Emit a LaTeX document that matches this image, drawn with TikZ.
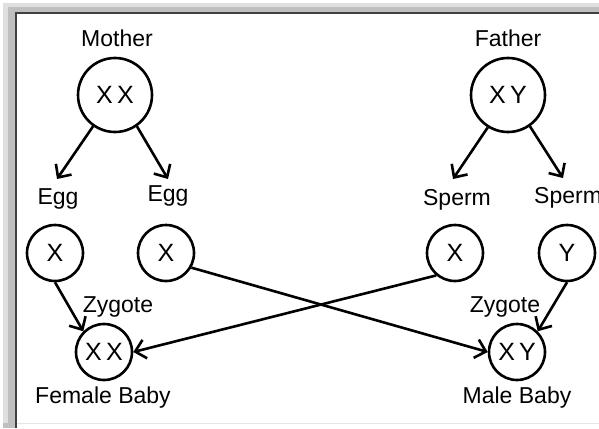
\documentclass[tikz,border=0pt]{standalone}
\usepackage{fontspec}
\setmainfont{Liberation Sans}
\usetikzlibrary{arrows.meta}
\begin{document}
\begin{tikzpicture}[x=1pt,y=-1pt,
  cell/.style={circle,draw,line width=2.6pt,minimum size=56pt,inner sep=0pt,font=\fontsize{25}{25}\selectfont},
  bigcell/.style={cell,minimum size=74pt},
  lbl/.style={font=\fontsize{23}{25}\selectfont,inner sep=0pt},
  arr/.style={line width=2.6pt,-{Straight Barb[length=10pt,width=19pt,line width=2.6pt]}}]
\useasboundingbox (0,0) rectangle (599,428);
\clip (0,0) rectangle (599,428);
% frame
\fill[gray!50] (3,3) rectangle (599,428);
\fill[gray!25] (3,3) rectangle (8,428);
\fill[gray!25] (3,3) rectangle (599,7);
\fill[white] (17,13) rectangle (599,423);
\fill[white] (3,424) rectangle (599,428);
\fill[gray!50] (3,423) rectangle (17,428);
\draw[black!75,line width=1.8pt] (16,428) -- (16,13) -- (599,13);
\draw[gray!20,line width=0.8pt] (17,423) -- (599,423);
% nodes
\node[bigcell] (mother) at (115,95) {X\,X};
\node[bigcell] (father) at (508,95) {X\,Y};
\node[lbl] (motherl) at (117,38) {Mother};
\node[lbl] (fatherl) at (508,38) {Father};
\node[cell] (egg1) at (55,253) {X};
\node[cell] (egg2) at (166,253) {X};
\node[cell] (sp1) at (455,253) {X};
\node[cell] (sp2) at (567,253) {Y};
\node[lbl] (egg1l) at (58,199) {Egg};
\node[lbl] (egg2l) at (168,196) {Egg};
\node[lbl] (sp1l) at (457,200) {Sperm};
\node[lbl,anchor=west] (sp2l) at (534,198) {Sperm};
\node[cell] (fz) at (104,352) {X\,X};
\node[cell] (mz) at (517,352) {X\,Y};
\node[lbl] (fzl) at (118,307) {Zygote};
\node[lbl] (mzl) at (505,307) {Zygote};
\node[lbl] (fb) at (103,398) {Female Baby};
\node[lbl] (mb) at (517,398) {Male Baby};
% arrows
\coordinate (a1) at (57,179);
\coordinate (a2) at (168,179);
\coordinate (a3) at (453,179);
\coordinate (a4) at (563,178);
\draw[arr] (mother.-125) -- (a1);
\draw[arr] (mother.-55) -- (a2);
\draw[arr] (father.-122) -- (a3);
\draw[arr] (father.-55) -- (a4);
\draw[arr] (egg1.south) -- (fz.north west);
\draw[arr] (egg2.-30) -- (mz.west);
\draw[arr] (sp1.-130) -- (fz.east);
\draw[arr] (sp2.south) -- (mz.north east);
\end{tikzpicture}
\end{document}
